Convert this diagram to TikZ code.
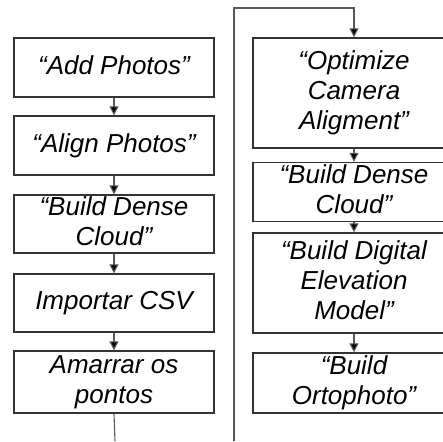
\documentclass[tikz,border=0pt]{standalone}
\usepackage{fontspec}
\setmainfont{Liberation Sans}
\usetikzlibrary{arrows.meta}
\newcommand\mystrut{\rule[-5.5pt]{0pt}{23pt}}
\begin{document}
\begin{tikzpicture}[x=1pt,y=-1pt,
  stepbox/.style={draw=black!80,line width=1.4pt,fill=white,inner sep=0pt,
    align=center,font=\fontsize{26pt}{30pt}\selectfont\itshape},
  lbox/.style={stepbox,minimum width=200pt},
  rbox/.style={stepbox,minimum width=202pt},
  conn/.style={draw=black!65,line width=1.1pt},
  arr/.style={conn,-{Triangle[width=9pt,length=9pt,fill=black]}}]
\useasboundingbox (0,0) rectangle (443,441);
\clip (0,0) rectangle (443,441);
\node[lbox,minimum height=59pt] (L1) at (114,67.5) {\mystrut“Add Photos”};
\node[lbox,minimum height=59pt] (L2) at (114,145.5) {\mystrut“Align Photos”};
\node[lbox,minimum height=58pt] (L3) at (114,224) {\mystrut“Build Dense\\\mystrut Cloud”};
\node[lbox,minimum height=58pt] (L4) at (114,303) {\mystrut Importar CSV};
\node[lbox,minimum height=62pt] (L5) at (114,382) {\mystrut Amarrar os\\\mystrut pontos};
\node[rbox,minimum height=110pt] (R1) at (354,93) {\mystrut“Optimize\\Camera\\\mystrut Aligment”};
\node[rbox,minimum height=59pt] (R2) at (354,192) {\mystrut“Build Dense\\\mystrut Cloud”};
\node[rbox,minimum height=100pt] (R3) at (354,283) {\mystrut“Build Digital\\Elevation\\\mystrut Model”};
\node[rbox,minimum height=60pt] (R4) at (354,383) {\mystrut“Build\\\mystrut Ortophoto”};
\coordinate (c1) at (115,441);
\coordinate (c2) at (234,441);
\coordinate (c3) at (234,8);
\draw[arr] (L1.south) -- (L2.north);
\draw[arr] (L2.south) -- (L3.north);
\draw[arr] (L3.south) -- (L4.north);
\draw[arr] (L4.south) -- (L5.north);
\draw[conn] (L5.south) -- (c1);
\draw[arr] (c2) -- (c3) -| (R1.north);
\draw[arr] (R1.south) -- (R2.north);
\draw[arr] (R2.south) -- (R3.north);
\draw[arr] (R3.south) -- (R4.north);
\end{tikzpicture}
\end{document}
